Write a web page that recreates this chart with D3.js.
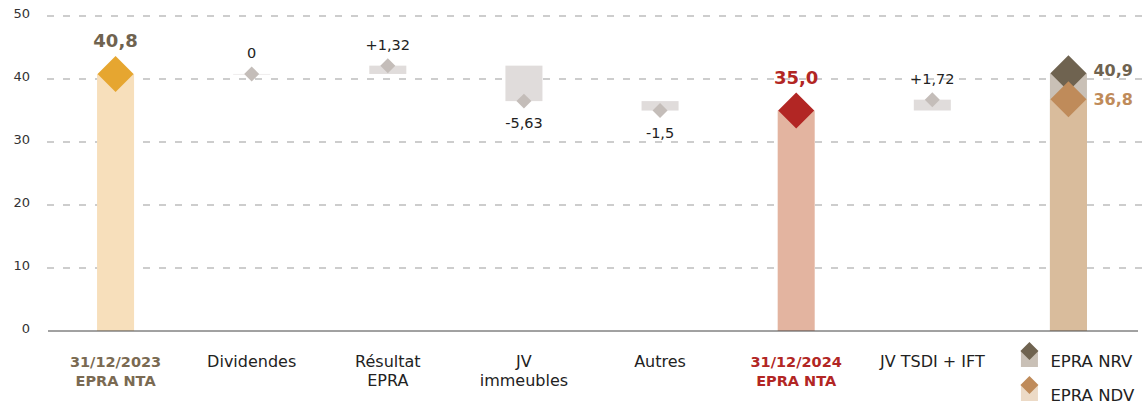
<!DOCTYPE html>
<html>
<head>
<meta charset="utf-8">
<script src="https://cdn.jsdelivr.net/npm/d3@7"></script>
<style>
    body { margin: 0; background: #fff; }
    svg { font-family: "DejaVu Sans", sans-serif; }
</style>
</head>
<body>
<div id="chart"></div>
<script>
// categories (multi-line labels), last column carries the legend
var categories = ["31/12/2023|EPRA NTA", "Dividendes", "Résultat|EPRA", "JV|immeubles", "Autres", "31/12/2024|EPRA NTA", "JV TSDI + IFT", "EPRA NRV / NDV"];
var kinds = ["total", "delta", "delta", "delta", "delta", "total", "delta", "final"];
var values = [40.8, 0, 1.32, -5.63, -1.5, 35.0, 1.72, null];
var valueLabels = ["40,8", "0", "+1,32", "-5,63", "-1,5", "35,0", "+1,72", ""];
var finalNRV = 40.9, finalNDV = 36.8;
var finalLabels = ["40,9", "36,8"];
var yTicks = [0, 10, 20, 30, 40, 50];

var width = 1142, height = 405;

var svg = d3.select("#chart").append("svg")
    .attr("width", width)
    .attr("height", height);

var x = d3.scaleBand()
    .domain(d3.range(categories.length))
    .range([47.5, 1136.5])
    .paddingInner(0.728)
    .paddingOuter(0.364);

var y = d3.scaleLinear()
    .domain([0, 50])
    .range([331, 16]);

// grid
svg.append("g")
    .selectAll("line")
    .data(yTicks.filter(function (d) { return d > 0; }))
    .enter().append("line")
    .attr("x1", 47).attr("x2", 1142)
    .attr("y1", function (d) { return y(d); })
    .attr("y2", function (d) { return y(d); })
    .style("stroke", "#9b9b9b")
    .style("stroke-width", 1)
    .style("stroke-dasharray", "7,9");

svg.append("g")
    .selectAll("text")
    .data(yTicks)
    .enter().append("text")
    .attr("x", 30)
    .attr("y", function (d) { return y(d) - 3; })
    .attr("text-anchor", "end")
    .attr("dominant-baseline", "central")
    .style("font-size", "13px")
    .style("fill", "#333")
    .text(function (d) { return d; });

// waterfall running values
var steps = [];
var running = 0;
values.forEach(function (v, i) {
    if (kinds[i] === "total") {
        steps.push({ i: i, from: 0, to: v });
        running = v;
    } else if (kinds[i] === "delta") {
        steps.push({ i: i, from: running, to: running + v });
        running = running + v;
    }
});

var bw = x.bandwidth();
var totalColors = { 0: ["#f7dfbb", "#e6a630", "#6f6350"], 5: ["#e3b4a0", "#b22624", "#b22624"] };

function diamond(size) {
    return d3.symbol().type(d3.symbolSquare).size(size)();
}

var g = svg.append("g");

steps.forEach(function (s) {
    var cx = x(s.i) + bw / 2;
    var top = Math.max(s.from, s.to), bottom = Math.min(s.from, s.to);
    if (kinds[s.i] === "total") {
        var c = totalColors[s.i];
        g.append("rect")
            .attr("x", x(s.i)).attr("width", bw)
            .attr("y", y(top)).attr("height", y(bottom) - y(top))
            .style("fill", c[0]);
        g.append("path")
            .attr("d", diamond(648))
            .attr("transform", "translate(" + cx + "," + y(s.to) + ") rotate(45)")
            .style("fill", c[1]);
        g.append("text")
            .attr("x", cx).attr("y", y(s.to) - 33)
            .attr("text-anchor", "middle")
            .attr("dominant-baseline", "central")
            .style("font-size", "18px")
            .style("font-weight", "bold")
            .style("fill", c[2])
            .text(valueLabels[s.i]);
    } else {
        g.append("rect")
            .attr("x", x(s.i)).attr("width", bw)
            .attr("y", y(top)).attr("height", Math.max(1, y(bottom) - y(top)))
            .style("fill", "#e0dcdb")
            .style("opacity", s.to === s.from ? 0.5 : 1);
        g.append("path")
            .attr("d", diamond(112))
            .attr("transform", "translate(" + cx + "," + y(s.to) + ") rotate(45)")
            .style("fill", "#c4bdb9");
        var up = values[s.i] >= 0;
        g.append("text")
            .attr("x", cx).attr("y", y(s.to) + (up ? -21 : 22))
            .attr("text-anchor", "middle")
            .attr("dominant-baseline", "central")
            .style("font-size", "14.5px")
            .style("fill", "#222")
            .text(valueLabels[s.i]);
    }
});

// final column: NRV and NDV
var fi = categories.length - 1;
var fcx = x(fi) + bw / 2;
g.append("rect")
    .attr("x", x(fi)).attr("width", bw)
    .attr("y", y(finalNRV)).attr("height", y(0) - y(finalNRV))
    .style("fill", "#c9c0b6");
g.append("rect")
    .attr("x", x(fi)).attr("width", bw)
    .attr("y", y(finalNDV)).attr("height", y(0) - y(finalNDV))
    .style("fill", "#d9bc9c");
g.append("path")
    .attr("d", diamond(648))
    .attr("transform", "translate(" + fcx + "," + y(finalNRV) + ") rotate(45)")
    .style("fill", "#6f6350");
g.append("path")
    .attr("d", diamond(648))
    .attr("transform", "translate(" + fcx + "," + y(finalNDV) + ") rotate(45)")
    .style("fill", "#bf8b5a");
g.append("text")
    .attr("x", fcx + 25).attr("y", y(finalNRV) - 3)
    .attr("dominant-baseline", "central")
    .style("font-size", "16px").style("font-weight", "bold")
    .style("fill", "#6f6350")
    .text(finalLabels[0]);
g.append("text")
    .attr("x", fcx + 25).attr("y", y(finalNDV))
    .attr("dominant-baseline", "central")
    .style("font-size", "16px").style("font-weight", "bold")
    .style("fill", "#bf8b5a")
    .text(finalLabels[1]);

// baseline
svg.append("line")
    .attr("x1", 48).attr("x2", 1138)
    .attr("y1", y(0)).attr("y2", y(0))
    .style("stroke", "#444")
    .style("stroke-width", 1);

// category labels
var labelColors = { 0: "#7a6a52", 5: "#b22624" };
categories.forEach(function (c, i) {
    if (i === fi) return;
    var t = svg.append("text")
        .attr("text-anchor", "middle")
        .style("font-size", labelColors[i] ? "14.5px" : "16px")
        .style("font-weight", labelColors[i] ? "bold" : "normal")
        .style("fill", labelColors[i] || "#222");
    c.split("|").forEach(function (line, k) {
        t.append("tspan")
            .attr("x", x(i) + bw / 2)
            .attr("y", 367 + k * 19)
            .text(line);
    });
});

// legend
var legend = [
    { name: "EPRA NRV", diamond: "#6f6350", box: "#c9c0b6", y: 351 },
    { name: "EPRA NDV", diamond: "#bf8b5a", box: "#ecdac6", y: 385 }
];
var lx = fcx - 39;
legend.forEach(function (l) {
    svg.append("rect")
        .attr("x", lx - 8.5).attr("y", l.y).attr("width", 17).attr("height", 16)
        .style("fill", l.box);
    svg.append("path")
        .attr("d", diamond(162))
        .attr("transform", "translate(" + lx + "," + l.y + ") rotate(45)")
        .style("fill", l.diamond);
    svg.append("text")
        .attr("x", lx + 21).attr("y", l.y + 10)
        .attr("dominant-baseline", "central")
        .style("font-size", "16.5px")
        .style("fill", "#222")
        .text(l.name);
});
</script>
</body>
</html>
